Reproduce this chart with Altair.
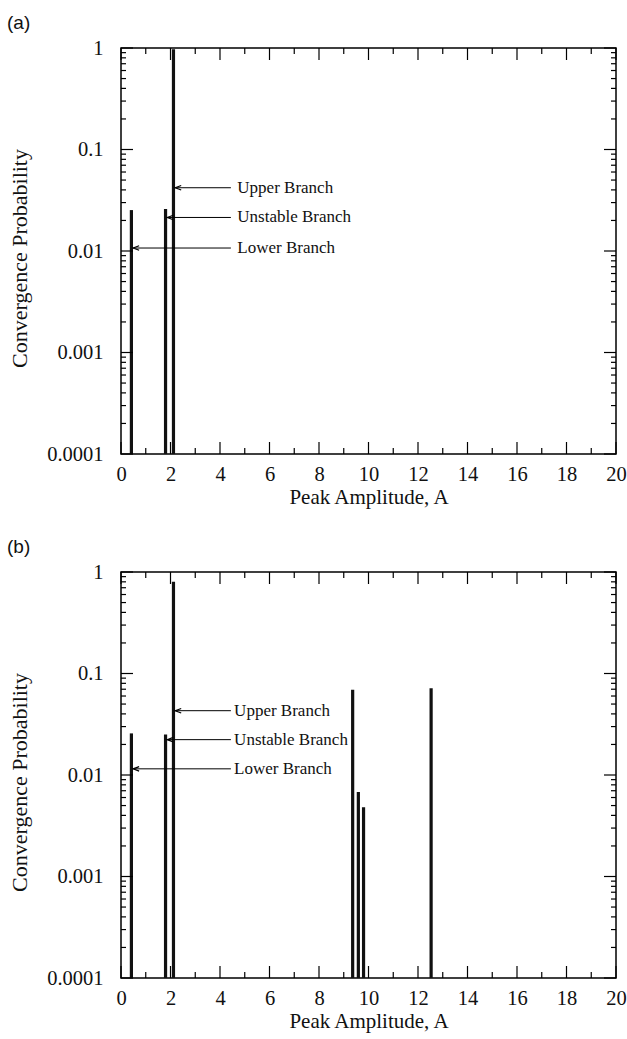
import altair as alt
import pandas as pd

# ---------------- data ----------------
top_bar_x = [0.42, 1.80, 2.12]
top_bar_p = [0.0253, 0.026, 0.97]

bot_bar_x = [0.42, 1.80, 2.12, 9.36, 9.59, 9.80, 12.53]
bot_bar_p = [0.0257, 0.025, 0.80, 0.069, 0.0068, 0.0048, 0.0716]

ann_labels = ["Upper Branch", "Unstable Branch", "Lower Branch"]
ann_bar_x = [2.12, 1.80, 0.42]
top_ann_y = [0.042, 0.0214, 0.0107]
bot_ann_y = [0.043, 0.0223, 0.0115]
top_text_x = 4.70
bot_text_x = 4.57
arrow_end_x = 4.44

x_major = [0, 2, 4, 6, 8, 10, 12, 14, 16, 18, 20]
x_minor = [1, 3, 5, 7, 9, 11, 13, 15, 17, 19]
y_major = [0.0001, 0.001, 0.01, 0.1, 1]
y_minor = [k * 10.0 ** e for e in (-4, -3, -2, -1) for k in range(2, 10)]

W, H = 495, 406
SERIF = "Liberation Serif"
SANS = "Liberation Sans"

xscale = alt.Scale(domain=[0, 20], nice=False, zero=False)
yscale = alt.Scale(type="log", domain=[0.0001, 1], nice=False)
XT = "Peak Amplitude, A"
YT = "Convergence Probability"
xaxis = alt.Axis(values=x_major, ticks=False, domain=False, grid=False,
                 labelPadding=10, titlePadding=2, labelFlush=False,
                 labelFontSize=20.5, titleFontSize=21)
yaxis = alt.Axis(values=y_major, format="~g", ticks=False, domain=False,
                 grid=False, labelPadding=18, titlePadding=15,
                 labelFontSize=20.5, titleFontSize=22, titleY=210)


def X(f):
    return alt.X(f, scale=xscale, title=XT, axis=xaxis)


def Y(f):
    return alt.Y(f, scale=yscale, title=YT, axis=yaxis)


def panel(bar_x, bar_p, ann_y, text_x, tag):
    bars = pd.DataFrame({"x": bar_x, "p": bar_p, "base": 0.0001})
    ann = pd.DataFrame({
        "label": ann_labels,
        "tip": [v + 0.07 for v in ann_bar_x],
        "end": arrow_end_x,
        "tx": text_x,
        "y": ann_y,
    })

    bar_layer = alt.Chart(bars).mark_rule(color="#111", strokeWidth=3.2).encode(
        x=X("x:Q"), y=Y("p:Q"), y2="base:Q",
    )
    lines = alt.Chart(ann).mark_rule(color="black", strokeWidth=1).encode(
        x=X("tip:Q"), x2="end:Q", y=Y("y:Q"),
    )
    heads = alt.Chart(ann).mark_point(
        shape="M 1 -0.75 L -1 0 L 1 0.75", filled=False, stroke="black",
        strokeWidth=1.2, size=36, xOffset=3, opacity=1
    ).encode(x=X("tip:Q"), y=Y("y:Q"))
    texts = alt.Chart(ann).mark_text(
        align="left", baseline="middle", font=SERIF, fontSize=17, color="#111"
    ).encode(x=X("tx:Q"), y=Y("y:Q"), text="label:N")

    def xticks(vals, length):
        d = pd.DataFrame({"v": vals})
        bottom = alt.Chart(d).mark_rule(color="black", strokeWidth=1.2).encode(
            x=X("v:Q"), y=alt.value(H), y2=alt.value(H - length))
        top = alt.Chart(d).mark_rule(color="black", strokeWidth=1.2).encode(
            x=X("v:Q"), y=alt.value(0), y2=alt.value(length))
        return [bottom, top]

    def yticks(vals, length):
        d = pd.DataFrame({"v": vals})
        left = alt.Chart(d).mark_rule(color="black", strokeWidth=1.2).encode(
            y=Y("v:Q"), x=alt.value(0), x2=alt.value(length))
        right = alt.Chart(d).mark_rule(color="black", strokeWidth=1.2).encode(
            y=Y("v:Q"), x=alt.value(W), x2=alt.value(W - length))
        return [left, right]

    tag_layer = alt.Chart(pd.DataFrame({"t": [tag]})).mark_text(
        align="left", baseline="top", font=SANS, fontSize=19, color="#111"
    ).encode(x=alt.value(-114), y=alt.value(-34), text="t:N")

    layers = [bar_layer] + xticks(x_major, 12) + xticks(x_minor, 6) \
        + yticks(y_major, 12) + yticks(y_minor, 5) + [lines, heads, texts, tag_layer]
    return alt.layer(*layers).properties(width=W, height=H)


top = panel(top_bar_x, top_bar_p, top_ann_y, top_text_x, "(a)")
bottom = panel(bot_bar_x, bot_bar_p, bot_ann_y, bot_text_x, "(b)")

chart = alt.vconcat(top, bottom, spacing=118, bounds="flush").properties(
    padding={"left": 6, "top": 13, "right": 0, "bottom": 0},
    background="white",
).configure_view(
    stroke="black", strokeWidth=1.5
).configure_axis(
    labelFont=SERIF, titleFont=SERIF,
    labelColor="#111", titleColor="#111", titleFontWeight="normal"
)

chart.save("out.html", embed_options={"renderer": "svg", "actions": False})
